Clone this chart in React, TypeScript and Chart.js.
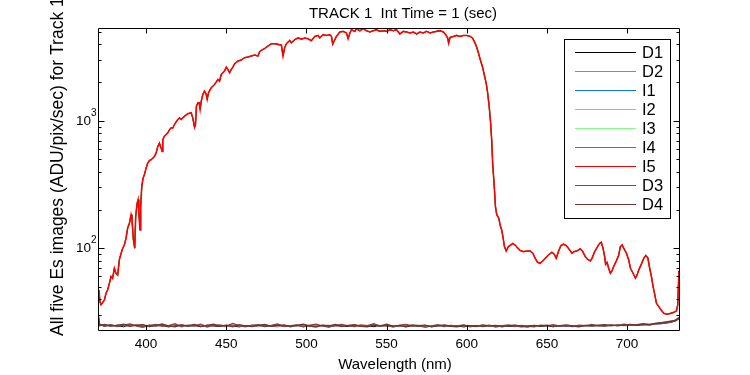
import React, { useEffect, useRef } from "react";
import { Chart, registerables } from "chart.js";
Chart.register(...registerables);

const titleText = "TRACK 1  Int Time = 1 (sec)";
const xLabelText = "Wavelength (nm)";
const yLabelText = "All five Es images (ADU/pix/sec) for Track 1";

const seriesNames = ["D1", "D2", "I1", "I2", "I3", "I4", "I5", "D3", "D4"];
const seriesColors = ["#000000", "#8c8c8c", "#0a78e6", "#33e0ff", "#80ff80", "#14b414", "#ff0000", "#8a4444", "#703434"];
const seriesWidths = [1, 1, 1, 1, 1, 1, 1.6, 1.4, 1.4];

const xMin = 370;
const xMax = 733;
const yMin = 22.4;
const yMax = 5350;
const xTicks = [400, 450, 500, 550, 600, 650, 700];
const yMajorTicks = [100, 1000];
const yMajorExp = ["2", "3"];
const yMinorTicks = [30, 40, 50, 60, 70, 80, 90, 200, 300, 400, 500, 600, 700, 800, 900, 2000, 3000, 4000, 5000];

// Illuminated spectrum (I1..I5 overlap almost perfectly)
const specNm = [
  370.0, 370.6, 371.2, 371.9, 372.9, 374.0, 375.0, 376.0, 377.1, 378.1, 379.1, 380.2, 381.2, 382.3, 383.3, 384.4,
  385.4, 386.4, 387.5, 388.5, 389.6, 390.6, 391.2, 392.1, 392.9, 393.5, 394.4, 395.0, 395.4, 395.8, 396.2, 396.6,
  397.3, 398.1, 398.9, 400.0, 401.0, 402.1, 403.1, 404.2, 405.2, 406.2, 407.3, 408.3, 409.4, 410.0, 410.4, 411.4,
  412.5, 413.5, 414.6, 415.6, 416.6, 417.7, 418.7, 419.8, 420.8, 421.9, 424.0, 426.0, 428.1, 429.1, 430.2, 430.8,
  431.4, 432.3, 433.1, 433.7, 434.4, 435.4, 436.4, 437.5, 438.1, 438.9, 440.6, 442.7, 444.8, 445.8, 446.9, 448.9,
  450.0, 451.0, 452.1, 453.1, 454.1, 455.2, 457.3, 459.4, 461.4, 463.5, 465.6, 467.7, 469.8, 470.8, 471.9, 474.0,
  476.0, 478.1, 480.2, 482.3, 484.4, 485.4, 486.4, 487.5, 489.6, 490.6, 492.7, 494.8, 496.9, 499.0, 501.0, 503.1,
  505.2, 507.3, 508.3, 510.4, 512.5, 514.6, 515.6, 516.4, 517.7, 518.7, 520.8, 522.9, 525.0, 526.0, 527.1, 528.1,
  530.2, 531.2, 533.3, 535.4, 537.5, 539.6, 541.7, 543.7, 545.8, 547.9, 550.0, 552.1, 554.1, 556.2, 558.3, 560.4,
  562.5, 564.6, 566.7, 568.7, 570.8, 572.9, 575.0, 577.1, 579.2, 581.2, 583.3, 585.4, 586.9, 588.1, 588.7, 589.6,
  591.7, 593.7, 595.8, 597.9, 600.0, 602.1, 603.6, 605.0, 606.2, 607.3, 608.5, 610.0, 611.0, 612.1, 612.9, 613.9,
  614.8, 615.6, 616.2, 617.1, 617.9, 618.7, 620.0, 620.8, 621.8, 622.7, 623.5, 624.6, 626.0, 627.5, 628.7, 630.2,
  631.6, 633.3, 635.4, 637.5, 639.6, 641.2, 642.7, 644.1, 645.8, 647.5, 648.9, 651.0, 653.1, 654.6, 655.8, 657.3,
  658.7, 660.4, 662.1, 664.1, 665.6, 667.1, 668.7, 670.8, 672.3, 673.9, 675.4, 677.1, 678.1, 679.6, 681.2, 682.9,
  683.9, 685.0, 686.0, 686.6, 687.5, 688.5, 689.6, 690.6, 691.6, 693.3, 694.8, 695.8, 696.9, 697.9, 699.6, 701.0,
  702.1, 703.7, 705.2, 706.2, 707.3, 708.7, 710.4, 711.6, 712.9, 714.1, 715.2, 716.2, 717.3, 718.3, 719.8, 721.2,
  722.9, 725.0, 727.1, 729.2, 730.8, 731.6, 732.3, 733.0,
];
const specVal = [
  44, 47, 38, 36, 37.4, 39.3, 44.3, 47, 53, 60, 58, 69.6, 63.6, 61.7, 81, 91,
  100, 106, 120, 144, 157, 183, 167, 116, 100, 177, 225, 240, 200, 167, 139, 212,
  305, 355, 377, 425, 465, 488, 494, 509, 525, 557, 628, 668, 610, 574, 709, 758,
  780, 805, 850, 881, 876, 935, 980, 1024, 1055, 1024, 1088, 1136, 1157, 1055, 891, 935,
  1303, 1384, 1384, 1227, 1426, 1610, 1710, 1610, 1472, 1660, 1817, 1929, 2112, 2050, 2312, 2455,
  2640, 2530, 2383, 2530, 2640, 2805, 2943, 2999, 3128, 3164, 3222, 3280, 3222, 3484, 3567, 3698,
  3856, 4025, 4025, 3981, 3928, 3222, 3744, 4025, 4276, 4100, 4340, 4470, 4380, 4460, 4405, 4250,
  4594, 4677, 4460, 4740, 4677, 4740, 4594, 3999, 4327, 4594, 4977, 5035, 4887, 4405, 4887, 5190,
  5035, 5280, 5095, 5280, 5095, 4977, 5095, 5190, 5035, 5095, 5035, 5190, 5095, 5190, 4800, 5035,
  4977, 4887, 4977, 4800, 4977, 4887, 5035, 4887, 4977, 5035, 5095, 4977, 4740, 4460, 4074, 4515,
  4594, 4677, 4594, 4677, 4677, 4594, 4460, 4120, 3780, 3400, 3000, 2594, 2270, 1976, 1700, 1335,
  988, 689, 451, 314, 212, 183, 172, 152, 139, 120, 103, 95, 103, 106, 109, 106,
  101, 96, 94, 95, 95, 91.3, 83.3, 77.6, 76.2, 79.5, 83.3, 88.5, 92.9, 89.7, 83.3, 95.2,
  104.9, 107.5, 104.9, 97.1, 91.3, 94.2, 95.2, 98.9, 94.2, 85.9, 81.8, 79.5, 83.3, 92.9, 101.2, 109.4,
  111.4, 100, 85.9, 74.8, 77.6, 69.6, 63.6, 66.3, 71.8, 79.5, 88.5, 103, 106.2, 100, 91.3, 80.9,
  69.6, 63.6, 58.1, 61.7, 67.6, 74, 83.3, 87.5, 84.3, 69.6, 59.8, 50, 43, 37, 34.8, 32.7,
  30.8, 30.3, 30.8, 31.4, 32.2, 35.9, 65.5, 67,
];

// Dark frames
const darkNm = [
  370, 371, 374, 378, 382, 386, 390, 394, 398, 402, 406, 410, 414, 418, 422, 426, 430, 434, 438, 442,
  446, 450, 454, 458, 462, 466, 470, 474, 478, 482, 486, 490, 494, 498, 502, 506, 510, 514, 518, 522,
  526, 530, 534, 538, 542, 546, 550, 554, 558, 562, 566, 570, 574, 578, 582, 586, 590, 594, 598, 602,
  606, 610, 614, 618, 622, 626, 630, 634, 638, 642, 646, 650, 654, 658, 662, 666, 670, 674, 678, 682,
  686, 690, 694, 698, 702, 706, 710, 714, 718, 722, 726, 730, 733,
];
const darkD1 = [
  30.6, 25.0, 24.4, 24.9, 24.6, 24.2, 25.0, 24.7, 24.3, 24.9, 24.5, 24.8, 24.1, 24.6, 25.0, 24.4, 24.7, 24.2, 24.9, 24.5,
  24.3, 24.8, 24.6, 24.1, 24.7, 24.4, 24.9, 24.2, 24.6, 24.8, 24.3, 24.5, 24.9, 24.2, 24.6, 24.4, 24.8, 24.1, 24.7, 24.5,
  24.3, 24.9, 24.4, 24.6, 24.2, 24.8, 24.5, 24.3, 24.7, 24.1, 24.6, 24.4, 24.8, 24.2, 24.5, 24.7, 24.3, 24.6, 24.1, 24.5,
  24.8, 24.2, 24.6, 24.4, 24.7, 24.3, 24.5, 24.1, 24.6, 24.8, 24.3, 24.5, 24.2, 24.7, 24.4, 24.6, 24.3, 24.8, 24.5, 24.7,
  24.4, 24.9, 24.6, 24.8, 25.0, 24.7, 25.1, 25.0, 25.4, 25.6, 26.0, 26.7, 28.2,
];
const darkD2 = [
  30.2, 24.8, 24.9, 24.3, 25.1, 24.6, 24.4, 25.2, 24.5, 24.2, 24.8, 25.0, 24.6, 24.3, 24.9, 24.7, 24.2, 25.1, 24.4, 24.8,
  24.6, 24.1, 24.9, 24.5, 24.3, 24.8, 24.2, 24.7, 24.4, 24.1, 24.9, 24.6, 24.3, 24.8, 24.2, 24.7, 24.5, 24.9, 24.3, 24.6,
  24.8, 24.2, 24.7, 24.4, 24.9, 24.3, 24.6, 24.8, 24.2, 24.7, 24.5, 24.9, 24.3, 24.6, 24.4, 24.2, 24.8, 24.5, 24.7, 24.3,
  24.5, 24.8, 24.2, 24.7, 24.4, 24.6, 24.9, 24.3, 24.5, 24.2, 24.7, 24.4, 24.8, 24.3, 24.6, 24.2, 24.7, 24.5, 24.3, 24.8,
  24.6, 24.5, 24.9, 24.6, 24.8, 25.1, 24.9, 25.3, 25.2, 25.7, 26.2, 26.9, 28.4,
];
const darkD3 = [
  31.0, 25.3, 24.6, 25.1, 24.3, 24.9, 25.4, 24.5, 24.0, 24.8, 25.2, 24.4, 24.7, 25.5, 24.2, 24.9, 24.6, 25.3, 24.1, 24.8,
  25.0, 24.4, 25.6, 24.7, 24.2, 24.9, 25.1, 24.5, 24.8, 25.4, 24.3, 24.6, 25.0, 24.2, 24.9, 25.3, 24.5, 24.1, 24.8, 25.2,
  24.6, 24.3, 25.0, 24.7, 25.5, 24.4, 24.8, 24.1, 24.9, 25.2, 24.5, 24.7, 24.0, 24.6, 25.1, 24.3, 24.8, 24.5, 25.0, 24.2,
  24.7, 24.4, 24.9, 24.1, 24.6, 25.0, 24.3, 24.8, 24.5, 24.2, 24.9, 24.6, 25.1, 24.4, 24.7, 24.3, 24.9, 24.6, 25.2, 24.5,
  24.8, 25.0, 24.7, 25.3, 24.9, 25.1, 25.5, 25.2, 25.8, 26.1, 26.6, 27.0, 28.6,
];
const darkD4 = [
  30.8, 24.7, 25.2, 24.5, 24.8, 25.3, 24.4, 24.9, 25.1, 24.3, 24.7, 25.4, 24.6, 24.2, 25.0, 24.5, 25.2, 24.3, 24.8, 25.3,
  24.4, 24.9, 24.2, 25.1, 24.6, 24.3, 24.8, 25.2, 24.4, 24.7, 25.0, 24.2, 24.8, 25.3, 24.5, 24.1, 24.9, 24.6, 25.2, 24.3,
  24.8, 25.1, 24.4, 24.2, 24.9, 24.6, 25.3, 24.4, 24.7, 24.3, 25.0, 24.6, 24.9, 24.2, 24.7, 25.0, 24.4, 24.2, 24.8, 24.6,
  24.3, 25.0, 24.5, 24.8, 24.2, 24.7, 24.9, 24.4, 24.1, 24.8, 24.5, 24.9, 24.3, 24.7, 25.0, 24.5, 24.2, 24.8, 24.6, 24.9,
  25.1, 24.7, 25.0, 24.8, 25.2, 24.9, 25.3, 25.1, 25.6, 25.9, 26.4, 27.2, 28.9,
];

const FONT = '"Liberation Sans", Arial, sans-serif';

function pts(xs: number[], ys: number[]) {
  const n = Math.min(xs.length, ys.length);
  const out: { x: number; y: number }[] = [];
  for (let i = 0; i < n; i++) out.push({ x: xs[i], y: ys[i] });
  return out;
}

const seriesData = [
  pts(darkNm, darkD1),
  pts(darkNm, darkD2),
  pts(specNm, specVal),
  pts(specNm, specVal),
  pts(specNm, specVal),
  pts(specNm, specVal),
  pts(specNm, specVal),
  pts(darkNm, darkD3),
  pts(darkNm, darkD4),
];

const matlabAxes = {
  id: "matlabAxes",
  beforeDraw(chart: any) {
    const ctx = chart.ctx;
    ctx.save();
    ctx.fillStyle = "#ffffff";
    ctx.fillRect(0, 0, chart.width, chart.height);
    ctx.restore();
  },
  afterDraw(chart: any) {
    const ctx = chart.ctx;
    const a = chart.chartArea;
    const xs = chart.scales.x;
    const ys = chart.scales.y;
    const L = Math.round(a.left) + 0.5;
    const R = Math.round(a.right) - 0.5;
    const T = Math.round(a.top) + 0.5;
    const B = Math.round(a.bottom) - 0.5;
    ctx.save();
    ctx.strokeStyle = "#000";
    ctx.lineWidth = 1;
    ctx.beginPath();
    ctx.rect(L, T, R - L, B - T);
    ctx.stroke();
    ctx.beginPath();
    xTicks.forEach((v) => {
      const p = Math.round(xs.getPixelForValue(v)) + 0.5;
      ctx.moveTo(p, B);
      ctx.lineTo(p, B - 5);
      ctx.moveTo(p, T);
      ctx.lineTo(p, T + 5);
    });
    yMajorTicks.forEach((v) => {
      const p = Math.round(ys.getPixelForValue(v)) + 0.5;
      ctx.moveTo(L, p);
      ctx.lineTo(L + 6, p);
      ctx.moveTo(R, p);
      ctx.lineTo(R - 6, p);
    });
    yMinorTicks.forEach((v) => {
      const p = Math.round(ys.getPixelForValue(v)) + 0.5;
      if (p < T || p > B) return;
      ctx.moveTo(L, p);
      ctx.lineTo(L + 3, p);
      ctx.moveTo(R, p);
      ctx.lineTo(R - 3, p);
    });
    ctx.stroke();

    ctx.fillStyle = "#000";
    ctx.font = `13.5px ${FONT}`;
    ctx.textAlign = "center";
    ctx.textBaseline = "top";
    xTicks.forEach((v) => {
      ctx.fillText(String(v), xs.getPixelForValue(v), a.bottom + 7);
    });
    yMajorTicks.forEach((v, i) => {
      const p = ys.getPixelForValue(v);
      ctx.font = `13.5px ${FONT}`;
      ctx.textAlign = "right";
      ctx.textBaseline = "middle";
      ctx.fillText("10", a.left - 7, p);
      ctx.font = `10px ${FONT}`;
      ctx.textAlign = "left";
      ctx.fillText(yMajorExp[i], a.left - 7, p - 8);
    });
    ctx.font = `15px ${FONT}`;
    ctx.textAlign = "center";
    ctx.textBaseline = "middle";
    ctx.fillText(xLabelText, 395, 365);
    ctx.fillText(titleText, 403, 14);
    ctx.save();
    ctx.translate(58, 336);
    ctx.rotate(-Math.PI / 2);
    ctx.font = `17.5px ${FONT}`;
    ctx.textAlign = "left";
    ctx.textBaseline = "middle";
    ctx.fillText(yLabelText, 0, 0);
    ctx.restore();

    const lx = 564.5, ly = 39.5, lw = 106, lh = 179;
    ctx.fillStyle = "#fff";
    ctx.fillRect(lx, ly, lw, lh);
    ctx.strokeStyle = "#000";
    ctx.lineWidth = 1;
    ctx.strokeRect(lx, ly, lw, lh);
    ctx.font = `16.5px ${FONT}`;
    ctx.textAlign = "left";
    ctx.textBaseline = "middle";
    seriesNames.forEach((name, i) => {
      const y = Math.round(51.7 + 19 * i) + 0.5;
      ctx.strokeStyle = seriesColors[i];
      ctx.lineWidth = 1;
      ctx.beginPath();
      ctx.moveTo(575, y);
      ctx.lineTo(636, y);
      ctx.stroke();
      ctx.fillStyle = "#000";
      ctx.fillText(name, 642, y + 0.5);
    });
    ctx.restore();
  },
};

export default function App() {
  const ref = useRef<HTMLCanvasElement>(null);
  useEffect(() => {
    document.body.style.margin = "0";
    const canvas = ref.current!;
    const n = seriesNames.length;
    const chart = new Chart(canvas, {
      type: "line",
      data: {
        datasets: seriesNames.map((name, i) => ({
          label: name,
          data: seriesData[i],
          borderColor: seriesColors[i],
          backgroundColor: seriesColors[i],
          borderWidth: seriesWidths[i],
          pointRadius: 0,
          tension: 0,
          fill: false,
          order: n - i,
        })),
      },
      options: {
        animation: false,
        responsive: false,
        maintainAspectRatio: false,
        events: [],
        layout: { padding: { left: 98, top: 28, right: 70, bottom: 44 } },
        plugins: { legend: { display: false }, title: { display: false }, tooltip: { enabled: false } },
        scales: {
          x: { type: "linear", min: xMin, max: xMax, display: false },
          y: { type: "logarithmic", min: yMin, max: yMax, display: false },
        },
      },
      plugins: [matlabAxes],
    });
    return () => chart.destroy();
  }, []);
  return (
    <div style={{ width: 750, height: 375 }}>
      <canvas ref={ref} width={750} height={375} style={{ display: "block" }} />
    </div>
  );
}
